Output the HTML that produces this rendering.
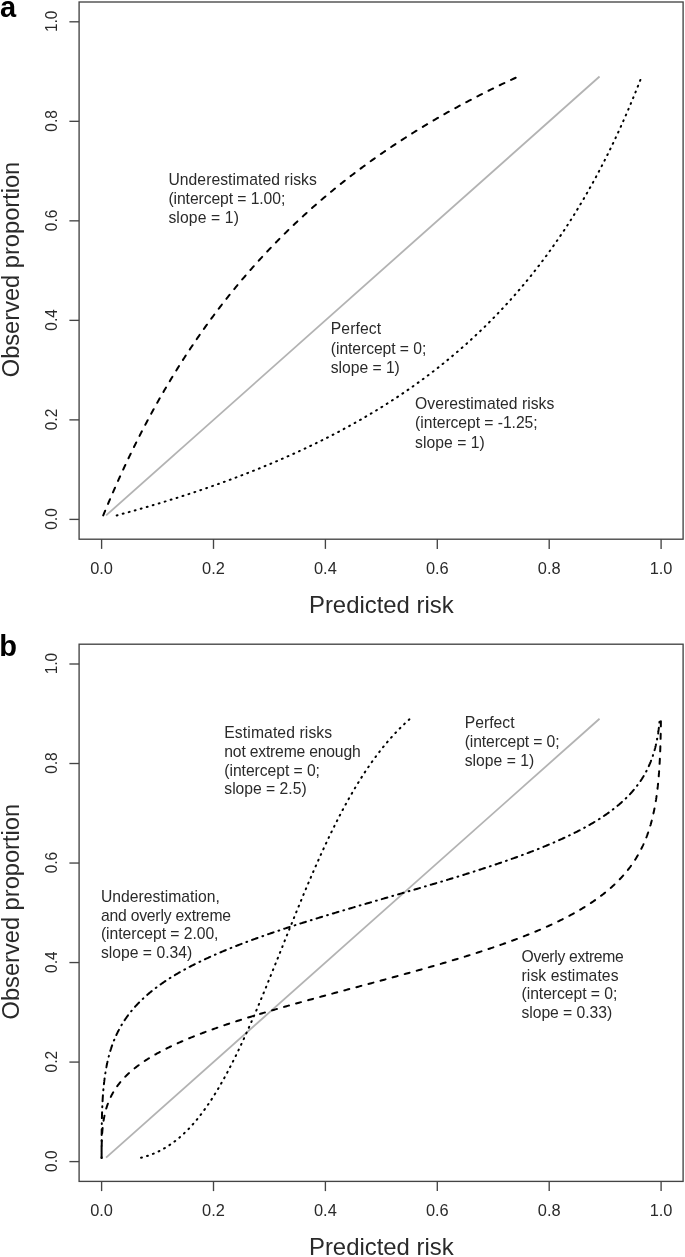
<!DOCTYPE html>
<html><head><meta charset="utf-8"><style>
html,body{margin:0;padding:0;background:#fff;}
body{width:685px;height:1257px;overflow:hidden;}
svg{display:block;font-family:"Liberation Sans",sans-serif;filter:grayscale(1);}
</style></head><body>
<svg width="685" height="1257" viewBox="0 0 685 1257">
<rect width="685" height="1257" fill="#fff"/>
<rect x="79.10" y="2.00" width="604.00" height="537.20" fill="none" stroke="#444" stroke-width="1.35"/><g stroke="#444" stroke-width="1.35"><line x1="101.60" y1="539.20" x2="101.60" y2="548.90"/><line x1="69.40" y1="519.40" x2="79.10" y2="519.40"/><line x1="213.50" y1="539.20" x2="213.50" y2="548.90"/><line x1="69.40" y1="419.88" x2="79.10" y2="419.88"/><line x1="325.40" y1="539.20" x2="325.40" y2="548.90"/><line x1="69.40" y1="320.36" x2="79.10" y2="320.36"/><line x1="437.30" y1="539.20" x2="437.30" y2="548.90"/><line x1="69.40" y1="220.84" x2="79.10" y2="220.84"/><line x1="549.20" y1="539.20" x2="549.20" y2="548.90"/><line x1="69.40" y1="121.32" x2="79.10" y2="121.32"/><line x1="661.10" y1="539.20" x2="661.10" y2="548.90"/><line x1="69.40" y1="21.80" x2="79.10" y2="21.80"/></g><g font-size="16.40" fill="#2a2a2a"><text x="101.60" y="573.90" text-anchor="middle">0.0</text><text transform="translate(56.80 519.00) rotate(-90) scale(0.94 1)" text-anchor="middle">0.0</text><text x="213.50" y="573.90" text-anchor="middle">0.2</text><text transform="translate(56.80 419.48) rotate(-90) scale(0.94 1)" text-anchor="middle">0.2</text><text x="325.40" y="573.90" text-anchor="middle">0.4</text><text transform="translate(56.80 319.96) rotate(-90) scale(0.94 1)" text-anchor="middle">0.4</text><text x="437.30" y="573.90" text-anchor="middle">0.6</text><text transform="translate(56.80 220.44) rotate(-90) scale(0.94 1)" text-anchor="middle">0.6</text><text x="549.20" y="573.90" text-anchor="middle">0.8</text><text transform="translate(56.80 120.92) rotate(-90) scale(0.94 1)" text-anchor="middle">0.8</text><text x="661.10" y="573.90" text-anchor="middle">1.0</text><text transform="translate(56.80 21.40) rotate(-90) scale(0.94 1)" text-anchor="middle">1.0</text></g><text x="381.35" y="612.60" text-anchor="middle" font-size="23.90" fill="#2a2a2a">Predicted risk</text><text transform="translate(18.60 269.50) rotate(-90)" text-anchor="middle" font-size="23.65" fill="#2a2a2a">Observed proportion</text><text x="0.00" y="16.60" font-size="29" font-weight="bold" fill="#000">a</text>
<rect x="79.10" y="644.20" width="604.00" height="537.20" fill="none" stroke="#444" stroke-width="1.35"/><g stroke="#444" stroke-width="1.35"><line x1="101.60" y1="1181.40" x2="101.60" y2="1191.10"/><line x1="69.40" y1="1161.60" x2="79.10" y2="1161.60"/><line x1="213.50" y1="1181.40" x2="213.50" y2="1191.10"/><line x1="69.40" y1="1062.08" x2="79.10" y2="1062.08"/><line x1="325.40" y1="1181.40" x2="325.40" y2="1191.10"/><line x1="69.40" y1="962.56" x2="79.10" y2="962.56"/><line x1="437.30" y1="1181.40" x2="437.30" y2="1191.10"/><line x1="69.40" y1="863.04" x2="79.10" y2="863.04"/><line x1="549.20" y1="1181.40" x2="549.20" y2="1191.10"/><line x1="69.40" y1="763.52" x2="79.10" y2="763.52"/><line x1="661.10" y1="1181.40" x2="661.10" y2="1191.10"/><line x1="69.40" y1="664.00" x2="79.10" y2="664.00"/></g><g font-size="16.40" fill="#2a2a2a"><text x="101.60" y="1216.10" text-anchor="middle">0.0</text><text transform="translate(56.80 1161.20) rotate(-90) scale(0.94 1)" text-anchor="middle">0.0</text><text x="213.50" y="1216.10" text-anchor="middle">0.2</text><text transform="translate(56.80 1061.68) rotate(-90) scale(0.94 1)" text-anchor="middle">0.2</text><text x="325.40" y="1216.10" text-anchor="middle">0.4</text><text transform="translate(56.80 962.16) rotate(-90) scale(0.94 1)" text-anchor="middle">0.4</text><text x="437.30" y="1216.10" text-anchor="middle">0.6</text><text transform="translate(56.80 862.64) rotate(-90) scale(0.94 1)" text-anchor="middle">0.6</text><text x="549.20" y="1216.10" text-anchor="middle">0.8</text><text transform="translate(56.80 763.12) rotate(-90) scale(0.94 1)" text-anchor="middle">0.8</text><text x="661.10" y="1216.10" text-anchor="middle">1.0</text><text transform="translate(56.80 663.60) rotate(-90) scale(0.94 1)" text-anchor="middle">1.0</text></g><text x="381.35" y="1254.80" text-anchor="middle" font-size="23.90" fill="#2a2a2a">Predicted risk</text><text transform="translate(18.60 911.70) rotate(-90)" text-anchor="middle" font-size="23.65" fill="#2a2a2a">Observed proportion</text><text x="-0.80" y="655.60" font-size="29" font-weight="bold" fill="#000">b</text>
<path d="M106.08 515.42L599.55 76.54" stroke="#b3b3b3" stroke-width="1.80" fill="none"/>
<path d="M103.22 515.42L103.67 514.32L104.12 513.22L104.58 512.13L105.03 511.03L105.49 509.93L105.94 508.84L106.40 507.74L106.86 506.64L107.32 505.54L107.78 504.45L108.24 503.35L108.71 502.25L109.17 501.16L109.64 500.06L110.11 498.96L110.58 497.86L111.05 496.77L111.52 495.67L112.00 494.57L112.47 493.48L112.95 492.38L113.43 491.28L113.91 490.18L114.39 489.09L114.87 487.99L115.36 486.89L115.84 485.79L116.33 484.70L116.82 483.60L117.30 482.50L117.80 481.41L118.29 480.31L118.78 479.21L119.28 478.11L119.77 477.02L120.27 475.92L120.77 474.82L121.27 473.73L121.78 472.63L122.28 471.53L122.79 470.43L123.29 469.34L123.80 468.24L124.31 467.14L124.83 466.04L125.34 464.95L125.85 463.85L126.37 462.75L126.89 461.66L127.41 460.56L127.93 459.46L128.45 458.36L128.98 457.27L129.50 456.17L130.03 455.07L130.56 453.98L131.09 452.88L131.63 451.78L132.16 450.68L132.70 449.59L133.23 448.49L133.77 447.39L134.31 446.30L134.86 445.20L135.40 444.10L135.95 443.00L136.49 441.91L137.04 440.81L137.60 439.71L138.15 438.61L138.70 437.52L139.26 436.42L139.82 435.32L140.38 434.23L140.94 433.13L141.50 432.03L142.07 430.93L142.64 429.84L143.21 428.74L143.78 427.64L144.35 426.55L144.92 425.45L145.50 424.35L146.08 423.25L146.66 422.16L147.24 421.06L147.82 419.96L148.41 418.86L149.00 417.77L149.59 416.67L150.18 415.57L150.77 414.48L151.37 413.38L151.96 412.28L152.56 411.18L153.16 410.09L153.77 408.99L154.37 407.89L154.98 406.80L155.59 405.70L156.20 404.60L156.81 403.50L157.43 402.41L158.05 401.31L158.66 400.21L159.29 399.12L159.91 398.02L160.53 396.92L161.16 395.82L161.79 394.73L162.42 393.63L163.06 392.53L163.69 391.43L164.33 390.34L164.97 389.24L165.62 388.14L166.26 387.05L166.91 385.95L167.56 384.85L168.21 383.75L168.86 382.66L169.52 381.56L170.18 380.46L170.84 379.37L171.50 378.27L172.16 377.17L172.83 376.07L173.50 374.98L174.17 373.88L174.85 372.78L175.52 371.68L176.20 370.59L176.88 369.49L177.57 368.39L178.25 367.30L178.94 366.20L179.63 365.10L180.33 364.00L181.02 362.91L181.72 361.81L182.42 360.71L183.12 359.62L183.83 358.52L184.54 357.42L185.25 356.32L185.96 355.23L186.68 354.13L187.40 353.03L188.12 351.94L188.84 350.84L189.57 349.74L190.29 348.64L191.03 347.55L191.76 346.45L192.50 345.35L193.24 344.25L193.98 343.16L194.72 342.06L195.47 340.96L196.22 339.87L196.97 338.77L197.73 337.67L198.49 336.57L199.25 335.48L200.01 334.38L200.78 333.28L201.55 332.19L202.32 331.09L203.10 329.99L203.88 328.89L204.66 327.80L205.44 326.70L206.23 325.60L207.02 324.51L207.82 323.41L208.61 322.31L209.41 321.21L210.21 320.12L211.02 319.02L211.83 317.92L212.64 316.82L213.45 315.73L214.27 314.63L215.09 313.53L215.92 312.44L216.74 311.34L217.57 310.24L218.41 309.14L219.24 308.05L220.08 306.95L220.93 305.85L221.77 304.76L222.62 303.66L223.48 302.56L224.33 301.46L225.19 300.37L226.06 299.27L226.92 298.17L227.79 297.07L228.67 295.98L229.54 294.88L230.42 293.78L231.31 292.69L232.20 291.59L233.09 290.49L233.98 289.39L234.88 288.30L235.78 287.20L236.69 286.10L237.60 285.01L238.51 283.91L239.43 282.81L240.35 281.71L241.27 280.62L242.20 279.52L243.13 278.42L244.07 277.33L245.00 276.23L245.95 275.13L246.89 274.03L247.85 272.94L248.80 271.84L249.76 270.74L250.72 269.64L251.69 268.55L252.66 267.45L253.63 266.35L254.61 265.26L255.60 264.16L256.58 263.06L257.57 261.96L258.57 260.87L259.57 259.77L260.57 258.67L261.58 257.58L262.59 256.48L263.61 255.38L264.63 254.28L265.66 253.19L266.69 252.09L267.72 250.99L268.76 249.89L269.80 248.80L270.85 247.70L271.90 246.60L272.96 245.51L274.02 244.41L275.09 243.31L276.16 242.21L277.24 241.12L278.32 240.02L279.40 238.92L280.49 237.83L281.59 236.73L282.68 235.63L283.79 234.53L284.90 233.44L286.01 232.34L287.13 231.24L288.26 230.15L289.39 229.05L290.52 227.95L291.66 226.85L292.80 225.76L293.95 224.66L295.11 223.56L296.27 222.46L297.44 221.37L298.61 220.27L299.78 219.17L300.97 218.08L302.15 216.98L303.35 215.88L304.54 214.78L305.75 213.69L306.96 212.59L308.17 211.49L309.39 210.40L310.62 209.30L311.85 208.20L313.09 207.10L314.34 206.01L315.59 204.91L316.84 203.81L318.10 202.71L319.37 201.62L320.64 200.52L321.92 199.42L323.21 198.33L324.50 197.23L325.80 196.13L327.11 195.03L328.42 193.94L329.73 192.84L331.06 191.74L332.39 190.65L333.73 189.55L335.07 188.45L336.42 187.35L337.78 186.26L339.14 185.16L340.51 184.06L341.89 182.97L343.27 181.87L344.66 180.77L346.06 179.67L347.46 178.58L348.88 177.48L350.29 176.38L351.72 175.28L353.15 174.19L354.59 173.09L356.04 171.99L357.50 170.90L358.96 169.80L360.43 168.70L361.91 167.60L363.39 166.51L364.89 165.41L366.39 164.31L367.90 163.22L369.41 162.12L370.94 161.02L372.47 159.92L374.01 158.83L375.56 157.73L377.12 156.63L378.68 155.53L380.26 154.44L381.84 153.34L383.43 152.24L385.03 151.15L386.63 150.05L388.25 148.95L389.87 147.85L391.51 146.76L393.15 145.66L394.80 144.56L396.46 143.47L398.13 142.37L399.81 141.27L401.50 140.17L403.19 139.08L404.90 137.98L406.62 136.88L408.34 135.79L410.08 134.69L411.82 133.59L413.58 132.49L415.34 131.40L417.11 130.30L418.90 129.20L420.69 128.10L422.50 127.01L424.31 125.91L426.14 124.81L427.97 123.72L429.82 122.62L431.68 121.52L433.55 120.42L435.42 119.33L437.31 118.23L439.21 117.13L441.13 116.04L443.05 114.94L444.98 113.84L446.93 112.74L448.89 111.65L450.86 110.55L452.84 109.45L454.83 108.36L456.83 107.26L458.85 106.16L460.88 105.06L462.92 103.97L464.97 102.87L467.04 101.77L469.12 100.67L471.21 99.58L473.31 98.48L475.43 97.38L477.56 96.29L479.70 95.19L481.86 94.09L484.03 92.99L486.21 91.90L488.41 90.80L490.62 89.70L492.84 88.61L495.08 87.51L497.34 86.41L499.60 85.31L501.89 84.22L504.18 83.12L506.50 82.02L508.82 80.92L511.16 79.83L513.52 78.73L515.89 77.63L518.28 76.54" stroke="#000" stroke-width="2.00" fill="none" stroke-dasharray="5.1 7.4" stroke-linecap="round"/>
<path d="M116.70 515.42L120.76 514.32L124.77 513.22L128.75 512.13L132.68 511.03L136.58 509.93L140.43 508.84L144.25 507.74L148.02 506.64L151.76 505.54L155.46 504.45L159.13 503.35L162.75 502.25L166.35 501.16L169.90 500.06L173.43 498.96L176.91 497.86L180.37 496.77L183.79 495.67L187.18 494.57L190.53 493.48L193.85 492.38L197.15 491.28L200.41 490.18L203.64 489.09L206.84 487.99L210.01 486.89L213.15 485.79L216.26 484.70L219.35 483.60L222.41 482.50L225.43 481.41L228.44 480.31L231.41 479.21L234.36 478.11L237.28 477.02L240.17 475.92L243.04 474.82L245.89 473.73L248.71 472.63L251.50 471.53L254.27 470.43L257.02 469.34L259.75 468.24L262.45 467.14L265.12 466.04L267.78 464.95L270.41 463.85L273.02 462.75L275.61 461.66L278.17 460.56L280.72 459.46L283.24 458.36L285.75 457.27L288.23 456.17L290.69 455.07L293.13 453.98L295.56 452.88L297.96 451.78L300.34 450.68L302.71 449.59L305.05 448.49L307.38 447.39L309.69 446.30L311.98 445.20L314.25 444.10L316.50 443.00L318.74 441.91L320.96 440.81L323.16 439.71L325.35 438.61L327.52 437.52L329.67 436.42L331.81 435.32L333.93 434.23L336.03 433.13L338.12 432.03L340.19 430.93L342.24 429.84L344.29 428.74L346.31 427.64L348.32 426.55L350.32 425.45L352.30 424.35L354.27 423.25L356.22 422.16L358.16 421.06L360.08 419.96L362.00 418.86L363.89 417.77L365.78 416.67L367.65 415.57L369.50 414.48L371.35 413.38L373.18 412.28L374.99 411.18L376.80 410.09L378.59 408.99L380.37 407.89L382.14 406.80L383.90 405.70L385.64 404.60L387.37 403.50L389.09 402.41L390.80 401.31L392.49 400.21L394.18 399.12L395.85 398.02L397.51 396.92L399.17 395.82L400.81 394.73L402.43 393.63L404.05 392.53L405.66 391.43L407.26 390.34L408.84 389.24L410.42 388.14L411.99 387.05L413.54 385.95L415.09 384.85L416.62 383.75L418.15 382.66L419.67 381.56L421.17 380.46L422.67 379.37L424.16 378.27L425.63 377.17L427.10 376.07L428.56 374.98L430.01 373.88L431.45 372.78L432.88 371.68L434.31 370.59L435.72 369.49L437.13 368.39L438.52 367.30L439.91 366.20L441.29 365.10L442.66 364.00L444.03 362.91L445.38 361.81L446.73 360.71L448.06 359.62L449.40 358.52L450.72 357.42L452.03 356.32L453.34 355.23L454.64 354.13L455.93 353.03L457.21 351.94L458.49 350.84L459.76 349.74L461.02 348.64L462.27 347.55L463.52 346.45L464.76 345.35L465.99 344.25L467.21 343.16L468.43 342.06L469.64 340.96L470.85 339.87L472.04 338.77L473.23 337.67L474.42 336.57L475.59 335.48L476.76 334.38L477.93 333.28L479.08 332.19L480.24 331.09L481.38 329.99L482.52 328.89L483.65 327.80L484.77 326.70L485.89 325.60L487.01 324.51L488.11 323.41L489.21 322.31L490.31 321.21L491.40 320.12L492.48 319.02L493.56 317.92L494.63 316.82L495.69 315.73L496.75 314.63L497.81 313.53L498.86 312.44L499.90 311.34L500.94 310.24L501.97 309.14L502.99 308.05L504.01 306.95L505.03 305.85L506.04 304.76L507.05 303.66L508.05 302.56L509.04 301.46L510.03 300.37L511.01 299.27L511.99 298.17L512.97 297.07L513.94 295.98L514.90 294.88L515.86 293.78L516.81 292.69L517.76 291.59L518.71 290.49L519.65 289.39L520.58 288.30L521.51 287.20L522.44 286.10L523.36 285.01L524.28 283.91L525.19 282.81L526.10 281.71L527.00 280.62L527.90 279.52L528.79 278.42L529.68 277.33L530.57 276.23L531.45 275.13L532.32 274.03L533.20 272.94L534.07 271.84L534.93 270.74L535.79 269.64L536.64 268.55L537.50 267.45L538.34 266.35L539.19 265.26L540.03 264.16L540.86 263.06L541.69 261.96L542.52 260.87L543.34 259.77L544.16 258.67L544.98 257.58L545.79 256.48L546.60 255.38L547.40 254.28L548.20 253.19L549.00 252.09L549.79 250.99L550.58 249.89L551.37 248.80L552.15 247.70L552.93 246.60L553.71 245.51L554.48 244.41L555.25 243.31L556.01 242.21L556.77 241.12L557.53 240.02L558.28 238.92L559.03 237.83L559.78 236.73L560.52 235.63L561.26 234.53L562.00 233.44L562.74 232.34L563.47 231.24L564.19 230.15L564.92 229.05L565.64 227.95L566.36 226.85L567.07 225.76L567.78 224.66L568.49 223.56L569.20 222.46L569.90 221.37L570.60 220.27L571.30 219.17L571.99 218.08L572.68 216.98L573.37 215.88L574.05 214.78L574.73 213.69L575.41 212.59L576.08 211.49L576.76 210.40L577.43 209.30L578.09 208.20L578.76 207.10L579.42 206.01L580.08 204.91L580.73 203.81L581.39 202.71L582.04 201.62L582.68 200.52L583.33 199.42L583.97 198.33L584.61 197.23L585.24 196.13L585.88 195.03L586.51 193.94L587.14 192.84L587.76 191.74L588.39 190.65L589.01 189.55L589.63 188.45L590.24 187.35L590.86 186.26L591.47 185.16L592.08 184.06L592.68 182.97L593.29 181.87L593.89 180.77L594.49 179.67L595.08 178.58L595.67 177.48L596.27 176.38L596.86 175.28L597.44 174.19L598.03 173.09L598.61 171.99L599.19 170.90L599.77 169.80L600.34 168.70L600.91 167.60L601.48 166.51L602.05 165.41L602.62 164.31L603.18 163.22L603.74 162.12L604.30 161.02L604.86 159.92L605.42 158.83L605.97 157.73L606.52 156.63L607.07 155.53L607.62 154.44L608.16 153.34L608.70 152.24L609.24 151.15L609.78 150.05L610.32 148.95L610.85 147.85L611.38 146.76L611.91 145.66L612.44 144.56L612.97 143.47L613.49 142.37L614.01 141.27L614.53 140.17L615.05 139.08L615.57 137.98L616.08 136.88L616.60 135.79L617.11 134.69L617.61 133.59L618.12 132.49L618.63 131.40L619.13 130.30L619.63 129.20L620.13 128.10L620.63 127.01L621.12 125.91L621.62 124.81L622.11 123.72L622.60 122.62L623.09 121.52L623.57 120.42L624.06 119.33L624.54 118.23L625.02 117.13L625.50 116.04L625.98 114.94L626.46 113.84L626.93 112.74L627.40 111.65L627.88 110.55L628.34 109.45L628.81 108.36L629.28 107.26L629.74 106.16L630.21 105.06L630.67 103.97L631.13 102.87L631.58 101.77L632.04 100.67L632.49 99.58L632.95 98.48L633.40 97.38L633.85 96.29L634.30 95.19L634.74 94.09L635.19 92.99L635.63 91.90L636.08 90.80L636.52 89.70L636.95 88.61L637.39 87.51L637.83 86.41L638.26 85.31L638.70 84.22L639.13 83.12L639.56 82.02L639.99 80.92L640.41 79.83L640.84 78.73L641.26 77.63L641.69 76.54" stroke="#000" stroke-width="2.00" fill="none" stroke-dasharray="0.9 5.34" stroke-linecap="round"/>
<path d="M106.08 1157.62L599.55 718.74" stroke="#b3b3b3" stroke-width="1.80" fill="none"/>
<path d="M141.05 1157.82L144.99 1156.72L148.39 1155.63L151.40 1154.53L154.12 1153.43L156.61 1152.34L158.92 1151.24L161.07 1150.14L163.09 1149.05L165.00 1147.95L166.81 1146.85L168.54 1145.76L170.18 1144.66L171.76 1143.56L173.28 1142.47L174.75 1141.37L176.16 1140.27L177.52 1139.18L178.85 1138.08L180.13 1136.99L181.38 1135.89L182.59 1134.79L183.78 1133.70L184.93 1132.60L186.05 1131.50L187.15 1130.41L188.23 1129.31L189.28 1128.21L190.31 1127.12L191.32 1126.02L192.31 1124.92L193.29 1123.83L194.24 1122.73L195.18 1121.64L196.10 1120.54L197.01 1119.44L197.90 1118.35L198.78 1117.25L199.64 1116.15L200.50 1115.06L201.34 1113.96L202.16 1112.86L202.98 1111.77L203.79 1110.67L204.58 1109.57L205.37 1108.48L206.15 1107.38L206.91 1106.28L207.67 1105.19L208.42 1104.09L209.16 1103.00L209.90 1101.90L210.62 1100.80L211.34 1099.71L212.05 1098.61L212.75 1097.51L213.45 1096.42L214.14 1095.32L214.82 1094.22L215.50 1093.13L216.17 1092.03L216.83 1090.93L217.49 1089.84L218.15 1088.74L218.79 1087.64L219.44 1086.55L220.07 1085.45L220.71 1084.36L221.33 1083.26L221.96 1082.16L222.58 1081.07L223.19 1079.97L223.80 1078.87L224.40 1077.78L225.01 1076.68L225.60 1075.58L226.20 1074.49L226.78 1073.39L227.37 1072.29L227.95 1071.20L228.53 1070.10L229.10 1069.00L229.68 1067.91L230.24 1066.81L230.81 1065.72L231.37 1064.62L231.93 1063.52L232.48 1062.43L233.04 1061.33L233.58 1060.23L234.13 1059.14L234.68 1058.04L235.22 1056.94L235.75 1055.85L236.29 1054.75L236.82 1053.65L237.35 1052.56L237.88 1051.46L238.41 1050.37L238.93 1049.27L239.45 1048.17L239.97 1047.08L240.49 1045.98L241.01 1044.88L241.52 1043.79L242.03 1042.69L242.54 1041.59L243.04 1040.50L243.55 1039.40L244.05 1038.30L244.55 1037.21L245.05 1036.11L245.55 1035.01L246.05 1033.92L246.54 1032.82L247.03 1031.73L247.52 1030.63L248.01 1029.53L248.50 1028.44L248.99 1027.34L249.47 1026.24L249.96 1025.15L250.44 1024.05L250.92 1022.95L251.40 1021.86L251.88 1020.76L252.35 1019.66L252.83 1018.57L253.30 1017.47L253.78 1016.37L254.25 1015.28L254.72 1014.18L255.19 1013.09L255.66 1011.99L256.13 1010.89L256.59 1009.80L257.06 1008.70L257.52 1007.60L257.98 1006.51L258.45 1005.41L258.91 1004.31L259.37 1003.22L259.83 1002.12L260.29 1001.02L260.75 999.93L261.20 998.83L261.66 997.73L262.11 996.64L262.57 995.54L263.02 994.45L263.48 993.35L263.93 992.25L264.38 991.16L264.83 990.06L265.28 988.96L265.73 987.87L266.18 986.77L266.63 985.67L267.08 984.58L267.53 983.48L267.98 982.38L268.42 981.29L268.87 980.19L269.32 979.09L269.76 978.00L270.21 976.90L270.65 975.81L271.10 974.71L271.54 973.61L271.98 972.52L272.43 971.42L272.87 970.32L273.31 969.23L273.75 968.13L274.20 967.03L274.64 965.94L275.08 964.84L275.52 963.74L275.96 962.65L276.40 961.55L276.84 960.46L277.28 959.36L277.72 958.26L278.16 957.17L278.60 956.07L279.04 954.97L279.48 953.88L279.92 952.78L280.36 951.68L280.80 950.59L281.24 949.49L281.68 948.39L282.12 947.30L282.56 946.20L283.00 945.10L283.44 944.01L283.88 942.91L284.32 941.82L284.76 940.72L285.20 939.62L285.64 938.53L286.08 937.43L286.52 936.33L286.96 935.24L287.40 934.14L287.84 933.04L288.28 931.95L288.72 930.85L289.16 929.75L289.61 928.66L290.05 927.56L290.49 926.46L290.93 925.37L291.38 924.27L291.82 923.18L292.26 922.08L292.71 920.98L293.15 919.89L293.60 918.79L294.04 917.69L294.49 916.60L294.93 915.50L295.38 914.40L295.83 913.31L296.27 912.21L296.72 911.11L297.17 910.02L297.62 908.92L298.07 907.82L298.52 906.73L298.97 905.63L299.42 904.54L299.87 903.44L300.32 902.34L300.77 901.25L301.23 900.15L301.68 899.05L302.14 897.96L302.59 896.86L303.05 895.76L303.51 894.67L303.96 893.57L304.42 892.47L304.88 891.38L305.34 890.28L305.80 889.19L306.26 888.09L306.73 886.99L307.19 885.90L307.66 884.80L308.12 883.70L308.59 882.61L309.05 881.51L309.52 880.41L309.99 879.32L310.46 878.22L310.93 877.12L311.40 876.03L311.88 874.93L312.35 873.83L312.83 872.74L313.30 871.64L313.78 870.55L314.26 869.45L314.74 868.35L315.22 867.26L315.70 866.16L316.19 865.06L316.67 863.97L317.16 862.87L317.65 861.77L318.13 860.68L318.62 859.58L319.12 858.48L319.61 857.39L320.10 856.29L320.60 855.19L321.10 854.10L321.59 853.00L322.09 851.91L322.60 850.81L323.10 849.71L323.61 848.62L324.11 847.52L324.62 846.42L325.13 845.33L325.64 844.23L326.15 843.13L326.67 842.04L327.19 840.94L327.71 839.84L328.23 838.75L328.75 837.65L329.27 836.55L329.80 835.46L330.33 834.36L330.86 833.27L331.39 832.17L331.93 831.07L332.46 829.98L333.00 828.88L333.54 827.78L334.08 826.69L334.63 825.59L335.18 824.49L335.73 823.40L336.28 822.30L336.84 821.20L337.39 820.11L337.95 819.01L338.51 817.92L339.08 816.82L339.65 815.72L340.22 814.63L340.79 813.53L341.37 812.43L341.94 811.34L342.52 810.24L343.11 809.14L343.70 808.05L344.29 806.95L344.88 805.85L345.48 804.76L346.07 803.66L346.68 802.56L347.28 801.47L347.89 800.37L348.50 799.28L349.12 798.18L349.74 797.08L350.36 795.99L350.99 794.89L351.62 793.79L352.25 792.70L352.89 791.60L353.53 790.50L354.18 789.41L354.83 788.31L355.48 787.21L356.14 786.12L356.80 785.02L357.47 783.92L358.14 782.83L358.82 781.73L359.50 780.64L360.18 779.54L360.87 778.44L361.57 777.35L362.27 776.25L362.97 775.15L363.68 774.06L364.40 772.96L365.12 771.86L365.85 770.77L366.58 769.67L367.32 768.57L368.06 767.48L368.81 766.38L369.57 765.28L370.33 764.19L371.10 763.09L371.87 762.00L372.66 760.90L373.44 759.80L374.24 758.71L375.04 757.61L375.85 756.51L376.67 755.42L377.50 754.32L378.33 753.22L379.17 752.13L380.02 751.03L380.88 749.93L381.75 748.84L382.62 747.74L383.51 746.65L384.41 745.55L385.31 744.45L386.22 743.36L387.15 742.26L388.08 741.16L389.03 740.07L389.99 738.97L390.95 737.87L391.93 736.78L392.93 735.68L393.93 734.58L394.95 733.49L395.98 732.39L397.02 731.29L398.08 730.20L399.15 729.10L400.24 728.01L401.34 726.91L402.46 725.81L403.60 724.72L404.75 723.62L405.92 722.52L407.11 721.43L408.31 720.33L409.54 719.23" stroke="#000" stroke-width="2.00" fill="none" stroke-dasharray="0.9 5.34" stroke-linecap="round"/>
<path d="M101.60 1158.12L101.60 1157.83L101.60 1157.53L101.60 1157.24L101.60 1156.95L101.60 1156.66L101.60 1156.37L101.60 1156.08L101.60 1155.78L101.60 1155.49L101.61 1155.20L101.61 1154.91L101.61 1154.62L101.61 1154.33L101.61 1154.03L101.61 1153.74L101.61 1153.45L101.61 1153.16L101.61 1152.87L101.62 1152.58L101.62 1152.28L101.62 1151.99L101.62 1151.70L101.62 1151.41L101.63 1151.12L101.63 1150.83L101.63 1150.54L101.63 1150.24L101.64 1149.95L101.64 1149.66L101.64 1149.37L101.64 1149.08L101.65 1148.79L101.65 1148.49L101.65 1148.20L101.66 1147.91L101.66 1147.62L101.67 1147.33L101.67 1147.04L101.68 1146.74L101.68 1146.45L101.69 1146.16L101.69 1145.87L101.70 1145.58L101.70 1145.29L101.71 1145.00L101.71 1144.70L101.72 1144.41L101.73 1144.12L101.73 1143.83L101.74 1143.54L101.75 1143.25L101.75 1142.95L101.76 1142.66L101.77 1142.37L101.78 1142.08L101.79 1141.79L101.80 1141.50L101.81 1141.20L101.81 1140.91L101.82 1140.62L101.83 1140.33L101.84 1140.04L101.86 1139.75L101.87 1139.45L101.88 1139.16L101.89 1138.87L101.90 1138.58L101.91 1138.29L101.93 1138.00L101.94 1137.71L101.95 1137.41L101.97 1137.12L101.98 1136.83L102.00 1136.54L102.01 1136.25L102.03 1135.96L102.04 1135.66L102.06 1135.37L102.08 1135.08L102.09 1134.79L102.11 1134.50L102.13 1134.21L102.15 1133.91L102.16 1133.62L102.18 1133.33L102.20 1133.04L102.22 1132.75L102.24 1132.46L102.27 1132.16L102.29 1131.87L102.31 1131.58L102.33 1131.29L102.35 1131.00L102.38 1130.71L102.40 1130.42L102.43 1130.12L102.45 1129.83L102.48 1129.54L102.50 1129.25L102.53 1128.96L102.56 1128.67L102.59 1128.37L102.61 1128.08L102.64 1127.79L102.67 1127.50L102.70 1127.21L102.73 1126.92L102.77 1126.62L102.80 1126.33L102.83 1126.04L102.86 1125.75L102.90 1125.46L102.93 1125.17L102.97 1124.88L103.00 1124.58L103.04 1124.29L103.08 1124.00L103.12 1123.71L103.15 1123.42L103.19 1123.13L103.23 1122.83L103.28 1122.54L103.32 1122.25L103.36 1121.96L103.40 1121.67L103.45 1121.38L103.49 1121.08L103.54 1120.79L103.58 1120.50L103.63 1120.21L103.68 1119.92L103.73 1119.63L103.78 1119.33L103.83 1119.04L103.88 1118.75L103.93 1118.46L103.98 1118.17L104.03 1117.88L104.09 1117.59L104.14 1117.29L104.20 1117.00L104.26 1116.71L104.32 1116.42L104.38 1116.13L104.43 1115.84L104.50 1115.54L104.56 1115.25L104.62 1114.96L104.68 1114.67L104.75 1114.38L104.81 1114.09L104.88 1113.79L104.95 1113.50L105.02 1113.21L105.09 1112.92L105.16 1112.63L105.23 1112.34L105.30 1112.05L105.38 1111.75L105.45 1111.46L105.53 1111.17L105.60 1110.88L105.68 1110.59L105.76 1110.30L105.84 1110.00L105.92 1109.71L106.01 1109.42L106.09 1109.13L106.17 1108.84L106.26 1108.55L106.35 1108.25L106.44 1107.96L106.53 1107.67L106.62 1107.38L106.71 1107.09L106.80 1106.80L106.90 1106.50L106.99 1106.21L107.09 1105.92L107.19 1105.63L107.29 1105.34L107.39 1105.05L107.49 1104.76L107.59 1104.46L107.70 1104.17L107.80 1103.88L107.91 1103.59L108.02 1103.30L108.13 1103.01L108.24 1102.71L108.36 1102.42L108.47 1102.13L108.59 1101.84L108.70 1101.55L108.82 1101.26L108.94 1100.96L109.07 1100.67L109.19 1100.38L109.31 1100.09L109.44 1099.80L109.57 1099.51L109.70 1099.21L109.83 1098.92L109.96 1098.63L110.09 1098.34L110.23 1098.05L110.37 1097.76L110.50 1097.47L110.64 1097.17L110.79 1096.88L110.93 1096.59L111.07 1096.30L111.22 1096.01L111.37 1095.72L111.52 1095.42L111.67 1095.13L111.83 1094.84L111.98 1094.55L112.14 1094.26L112.30 1093.97L112.46 1093.67L112.62 1093.38L112.78 1093.09L112.95 1092.80L113.12 1092.51L113.29 1092.22L113.46 1091.93L113.63 1091.63L113.81 1091.34L113.98 1091.05L114.16 1090.76L114.34 1090.47L114.52 1090.18L114.71 1089.88L114.90 1089.59L115.08 1089.30L115.27 1089.01L115.47 1088.72L115.66 1088.43L115.86 1088.13L116.06 1087.84L116.26 1087.55L116.46 1087.26L116.66 1086.97L116.87 1086.68L117.08 1086.38L117.29 1086.09L117.50 1085.80L117.71 1085.51L117.93 1085.22L118.15 1084.93L118.37 1084.64L118.60 1084.34L118.82 1084.05L119.05 1083.76L119.28 1083.47L119.51 1083.18L119.75 1082.89L119.98 1082.59L120.22 1082.30L120.46 1082.01L120.71 1081.72L120.95 1081.43L121.20 1081.14L121.45 1080.84L121.70 1080.55L121.96 1080.26L122.22 1079.97L122.48 1079.68L122.74 1079.39L123.00 1079.09L123.27 1078.80L123.54 1078.51L123.81 1078.22L124.09 1077.93L124.36 1077.64L124.64 1077.35L124.92 1077.05L125.21 1076.76L125.49 1076.47L125.78 1076.18L126.08 1075.89L126.37 1075.60L126.67 1075.30L126.97 1075.01L127.27 1074.72L127.58 1074.43L127.88 1074.14L128.19 1073.85L128.51 1073.55L128.82 1073.26L129.14 1072.97L129.46 1072.68L129.78 1072.39L130.11 1072.10L130.44 1071.81L130.77 1071.51L131.11 1071.22L131.44 1070.93L131.78 1070.64L132.13 1070.35L132.47 1070.06L132.82 1069.76L133.17 1069.47L133.53 1069.18L133.88 1068.89L134.24 1068.60L134.61 1068.31L134.97 1068.01L135.34 1067.72L135.71 1067.43L136.09 1067.14L136.46 1066.85L136.84 1066.56L137.23 1066.26L137.61 1065.97L138.00 1065.68L138.39 1065.39L138.79 1065.10L139.19 1064.81L139.59 1064.52L139.99 1064.22L140.40 1063.93L140.81 1063.64L141.23 1063.35L141.64 1063.06L142.06 1062.77L142.48 1062.47L142.91 1062.18L143.34 1061.89L143.77 1061.60L144.21 1061.31L144.65 1061.02L145.09 1060.72L145.53 1060.43L145.98 1060.14L146.43 1059.85L146.89 1059.56L147.34 1059.27L147.81 1058.97L148.27 1058.68L148.74 1058.39L149.21 1058.10L149.68 1057.81L150.16 1057.52L150.64 1057.23L151.12 1056.93L151.61 1056.64L152.10 1056.35L152.60 1056.06L153.09 1055.77L153.59 1055.48L154.10 1055.18L154.60 1054.89L155.11 1054.60L155.63 1054.31L156.15 1054.02L156.67 1053.73L157.19 1053.43L157.72 1053.14L158.25 1052.85L158.78 1052.56L159.32 1052.27L159.86 1051.98L160.41 1051.69L160.96 1051.39L161.51 1051.10L162.06 1050.81L162.62 1050.52L163.18 1050.23L163.75 1049.94L164.32 1049.64L164.89 1049.35L165.46 1049.06L166.04 1048.77L166.63 1048.48L167.21 1048.19L167.80 1047.89L168.40 1047.60L168.99 1047.31L169.59 1047.02L170.20 1046.73L170.80 1046.44L171.41 1046.14L172.03 1045.85L172.65 1045.56L173.27 1045.27L173.89 1044.98L174.52 1044.69L175.15 1044.40L175.79 1044.10L176.43 1043.81L177.07 1043.52L177.72 1043.23L178.37 1042.94L179.02 1042.65L179.68 1042.35L180.34 1042.06L181.00 1041.77L181.67 1041.48L182.34 1041.19L183.02 1040.90L183.69 1040.60L184.38 1040.31L185.06 1040.02L185.75 1039.73L186.44 1039.44L187.14 1039.15L187.84 1038.86L188.54 1038.56L189.25 1038.27L189.96 1037.98L190.67 1037.69L191.39 1037.40L192.11 1037.11L192.83 1036.81L193.56 1036.52L194.29 1036.23L195.03 1035.94L195.77 1035.65L196.51 1035.36L197.25 1035.06L198.00 1034.77L198.76 1034.48L199.51 1034.19L200.27 1033.90L201.03 1033.61L201.80 1033.31L202.57 1033.02L203.34 1032.73L204.12 1032.44L204.90 1032.15L205.68 1031.86L206.47 1031.57L207.26 1031.27L208.05 1030.98L208.85 1030.69L209.65 1030.40L210.46 1030.11L211.26 1029.82L212.07 1029.52L212.89 1029.23L213.71 1028.94L214.53 1028.65L215.35 1028.36L216.18 1028.07L217.01 1027.77L217.84 1027.48L218.68 1027.19L219.52 1026.90L220.36 1026.61L221.21 1026.32L222.06 1026.02L222.92 1025.73L223.77 1025.44L224.63 1025.15L225.50 1024.86L226.36 1024.57L227.23 1024.28L228.10 1023.98L228.98 1023.69L229.86 1023.40L230.74 1023.11L231.63 1022.82L232.51 1022.53L233.40 1022.23L234.30 1021.94L235.20 1021.65L236.10 1021.36L237.00 1021.07L237.91 1020.78L238.82 1020.48L239.73 1020.19L240.64 1019.90L241.56 1019.61L242.48 1019.32L243.41 1019.03L244.33 1018.74L245.26 1018.44L246.19 1018.15L247.13 1017.86L248.07 1017.57L249.01 1017.28L249.95 1016.99L250.90 1016.69L251.85 1016.40L252.80 1016.11L253.75 1015.82L254.71 1015.53L255.67 1015.24L256.63 1014.94L257.59 1014.65L258.56 1014.36L259.53 1014.07L260.50 1013.78L261.48 1013.49L262.45 1013.19L263.43 1012.90L264.42 1012.61L265.40 1012.32L266.39 1012.03L267.38 1011.74L268.37 1011.45L269.36 1011.15L270.36 1010.86L271.36 1010.57L272.36 1010.28L273.36 1009.99L274.36 1009.70L275.37 1009.40L276.38 1009.11L277.39 1008.82L278.40 1008.53L279.42 1008.24L280.44 1007.95L281.46 1007.65L282.48 1007.36L283.50 1007.07L284.53 1006.78L285.55 1006.49L286.58 1006.20L287.61 1005.90L288.65 1005.61L289.68 1005.32L290.72 1005.03L291.76 1004.74L292.80 1004.45L293.84 1004.16L294.88 1003.86L295.93 1003.57L296.97 1003.28L298.02 1002.99L299.07 1002.70L300.12 1002.41L301.17 1002.11L302.23 1001.82L303.28 1001.53L304.34 1001.24L305.40 1000.95L306.46 1000.66L307.52 1000.36L308.58 1000.07L309.64 999.78L310.71 999.49L311.77 999.20L312.84 998.91L313.91 998.62L314.98 998.32L316.05 998.03L317.12 997.74L318.19 997.45L319.26 997.16L320.34 996.87L321.41 996.57L322.49 996.28L323.57 995.99L324.64 995.70L325.72 995.41L326.80 995.12L327.88 994.82L328.96 994.53L330.05 994.24L331.13 993.95L332.21 993.66L333.29 993.37L334.38 993.07L335.46 992.78L336.55 992.49L337.63 992.20L338.72 991.91L339.81 991.62L340.89 991.33L341.98 991.03L343.07 990.74L344.15 990.45L345.24 990.16L346.33 989.87L347.42 989.58L348.51 989.28L349.60 988.99L350.69 988.70L351.77 988.41L352.86 988.12L353.95 987.83L355.04 987.53L356.13 987.24L357.22 986.95L358.31 986.66L359.40 986.37L360.49 986.08L361.57 985.78L362.66 985.49L363.75 985.20L364.84 984.91L365.92 984.62L367.01 984.33L368.10 984.04L369.18 983.74L370.27 983.45L371.36 983.16L372.44 982.87L373.53 982.58L374.61 982.29L375.69 981.99L376.77 981.70L377.86 981.41L378.94 981.12L380.02 980.83L381.10 980.54L382.18 980.24L383.26 979.95L384.33 979.66L385.41 979.37L386.49 979.08L387.56 978.79L388.64 978.50L389.71 978.20L390.78 977.91L391.85 977.62L392.92 977.33L393.99 977.04L395.06 976.75L396.13 976.45L397.19 976.16L398.26 975.87L399.32 975.58L400.39 975.29L401.45 975.00L402.51 974.70L403.57 974.41L404.62 974.12L405.68 973.83L406.73 973.54L407.79 973.25L408.84 972.95L409.89 972.66L410.94 972.37L411.99 972.08L413.03 971.79L414.08 971.50L415.12 971.21L416.16 970.91L417.20 970.62L418.24 970.33L419.28 970.04L420.31 969.75L421.35 969.46L422.38 969.16L423.41 968.87L424.44 968.58L425.47 968.29L426.49 968.00L427.51 967.71L428.53 967.41L429.55 967.12L430.57 966.83L431.59 966.54L432.60 966.25L433.61 965.96L434.62 965.67L435.63 965.37L436.64 965.08L437.64 964.79L438.64 964.50L439.64 964.21L440.64 963.92L441.64 963.62L442.63 963.33L443.62 963.04L444.61 962.75L445.60 962.46L446.58 962.17L447.57 961.87L448.55 961.58L449.52 961.29L450.50 961.00L451.47 960.71L452.45 960.42L453.42 960.12L454.38 959.83L455.35 959.54L456.31 959.25L457.27 958.96L458.23 958.67L459.18 958.38L460.14 958.08L461.09 957.79L462.04 957.50L462.98 957.21L463.92 956.92L464.87 956.63L465.80 956.33L466.74 956.04L467.67 955.75L468.60 955.46L469.53 955.17L470.46 954.88L471.38 954.58L472.30 954.29L473.22 954.00L474.14 953.71L475.05 953.42L475.96 953.13L476.87 952.83L477.77 952.54L478.68 952.25L479.58 951.96L480.47 951.67L481.37 951.38L482.26 951.09L483.15 950.79L484.04 950.50L484.92 950.21L485.80 949.92L486.68 949.63L487.56 949.34L488.43 949.04L489.30 948.75L490.17 948.46L491.03 948.17L491.89 947.88L492.75 947.59L493.61 947.29L494.46 947.00L495.31 946.71L496.16 946.42L497.01 946.13L497.85 945.84L498.69 945.55L499.53 945.25L500.36 944.96L501.19 944.67L502.02 944.38L502.84 944.09L503.67 943.80L504.49 943.50L505.30 943.21L506.12 942.92L506.93 942.63L507.74 942.34L508.54 942.05L509.35 941.75L510.15 941.46L510.94 941.17L511.74 940.88L512.53 940.59L513.32 940.30L514.10 940.00L514.88 939.71L515.66 939.42L516.44 939.13L517.21 938.84L517.98 938.55L518.75 938.26L519.52 937.96L520.28 937.67L521.04 937.38L521.79 937.09L522.55 936.80L523.30 936.51L524.05 936.21L524.79 935.92L525.53 935.63L526.27 935.34L527.01 935.05L527.74 934.76L528.47 934.46L529.20 934.17L529.92 933.88L530.64 933.59L531.36 933.30L532.08 933.01L532.79 932.71L533.50 932.42L534.21 932.13L534.91 931.84L535.61 931.55L536.31 931.26L537.01 930.97L537.70 930.67L538.39 930.38L539.07 930.09L539.76 929.80L540.44 929.51L541.12 929.22L541.79 928.92L542.46 928.63L543.13 928.34L543.80 928.05L544.46 927.76L545.12 927.47L545.78 927.17L546.44 926.88L547.09 926.59L547.74 926.30L548.38 926.01L549.03 925.72L549.67 925.43L550.31 925.13L550.94 924.84L551.57 924.55L552.20 924.26L552.83 923.97L553.45 923.68L554.08 923.38L554.69 923.09L555.31 922.80L555.92 922.51L556.53 922.22L557.14 921.93L557.74 921.63L558.34 921.34L558.94 921.05L559.54 920.76L560.13 920.47L560.72 920.18L561.31 919.88L561.90 919.59L562.48 919.30L563.06 919.01L563.63 918.72L564.21 918.43L564.78 918.14L565.35 917.84L565.92 917.55L566.48 917.26L567.04 916.97L567.60 916.68L568.15 916.39L568.71 916.09L569.26 915.80L569.80 915.51L570.35 915.22L570.89 914.93L571.43 914.64L571.97 914.34L572.50 914.05L573.03 913.76L573.56 913.47L574.09 913.18L574.61 912.89L575.13 912.59L575.65 912.30L576.17 912.01L576.68 911.72L577.19 911.43L577.70 911.14L578.21 910.85L578.71 910.55L579.21 910.26L579.71 909.97L580.20 909.68L580.70 909.39L581.19 909.10L581.68 908.80L582.16 908.51L582.65 908.22L583.13 907.93L583.61 907.64L584.08 907.35L584.56 907.05L585.03 906.76L585.50 906.47L585.96 906.18L586.43 905.89L586.89 905.60L587.35 905.31L587.80 905.01L588.26 904.72L588.71 904.43L589.16 904.14L589.61 903.85L590.05 903.56L590.49 903.26L590.94 902.97L591.37 902.68L591.81 902.39L592.24 902.10L592.67 901.81L593.10 901.51L593.53 901.22L593.95 900.93L594.38 900.64L594.80 900.35L595.21 900.06L595.63 899.76L596.04 899.47L596.45 899.18L596.86 898.89L597.27 898.60L597.67 898.31L598.07 898.02L598.47 897.72L598.87 897.43L599.27 897.14L599.66 896.85L600.05 896.56L600.44 896.27L600.83 895.97L601.21 895.68L601.60 895.39L601.98 895.10L602.36 894.81L602.73 894.52L603.11 894.22L603.48 893.93L603.85 893.64L604.22 893.35L604.59 893.06L604.95 892.77L605.31 892.48L605.67 892.18L606.03 891.89L606.39 891.60L606.74 891.31L607.09 891.02L607.44 890.73L607.79 890.43L608.14 890.14L608.48 889.85L608.83 889.56L609.17 889.27L609.51 888.98L609.84 888.68L610.18 888.39L610.51 888.10L610.84 887.81L611.17 887.52L611.50 887.23L611.82 886.93L612.15 886.64L612.47 886.35L612.79 886.06L613.11 885.77L613.42 885.48L613.74 885.19L614.05 884.89L614.36 884.60L614.67 884.31L614.98 884.02L615.29 883.73L615.59 883.44L615.89 883.14L616.19 882.85L616.49 882.56L616.79 882.27L617.08 881.98L617.38 881.69L617.67 881.39L617.96 881.10L618.25 880.81L618.53 880.52L618.82 880.23L619.10 879.94L619.38 879.64L619.66 879.35L619.94 879.06L620.22 878.77L620.49 878.48L620.77 878.19L621.04 877.90L621.31 877.60L621.58 877.31L621.84 877.02L622.11 876.73L622.37 876.44L622.64 876.15L622.90 875.85L623.16 875.56L623.41 875.27L623.67 874.98L623.93 874.69L624.18 874.40L624.43 874.10L624.68 873.81L624.93 873.52L625.18 873.23L625.42 872.94L625.67 872.65L625.91 872.36L626.15 872.06L626.39 871.77L626.63 871.48L626.87 871.19L627.10 870.90L627.34 870.61L627.57 870.31L627.80 870.02L628.03 869.73L628.26 869.44L628.49 869.15L628.71 868.86L628.94 868.56L629.16 868.27L629.38 867.98L629.60 867.69L629.82 867.40L630.04 867.11L630.25 866.81L630.47 866.52L630.68 866.23L630.89 865.94L631.11 865.65L631.32 865.36L631.52 865.07L631.73 864.77L631.94 864.48L632.14 864.19L632.35 863.90L632.55 863.61L632.75 863.32L632.95 863.02L633.15 862.73L633.34 862.44L633.54 862.15L633.73 861.86L633.93 861.57L634.12 861.27L634.31 860.98L634.50 860.69L634.69 860.40L634.88 860.11L635.06 859.82L635.25 859.52L635.43 859.23L635.62 858.94L635.80 858.65L635.98 858.36L636.16 858.07L636.34 857.78L636.51 857.48L636.69 857.19L636.87 856.90L637.04 856.61L637.21 856.32L637.38 856.03L637.55 855.73L637.72 855.44L637.89 855.15L638.06 854.86L638.23 854.57L638.39 854.28L638.56 853.98L638.72 853.69L638.88 853.40L639.04 853.11L639.20 852.82L639.36 852.53L639.52 852.24L639.68 851.94L639.83 851.65L639.99 851.36L640.14 851.07L640.30 850.78L640.45 850.49L640.60 850.19L640.75 849.90L640.90 849.61L641.05 849.32L641.19 849.03L641.34 848.74L641.49 848.44L641.63 848.15L641.77 847.86L641.92 847.57L642.06 847.28L642.20 846.99L642.34 846.69L642.48 846.40L642.62 846.11L642.75 845.82L642.89 845.53L643.02 845.24L643.16 844.95L643.29 844.65L643.43 844.36L643.56 844.07L643.69 843.78L643.82 843.49L643.95 843.20L644.08 842.90L644.20 842.61L644.33 842.32L644.46 842.03L644.58 841.74L644.71 841.45L644.83 841.15L644.95 840.86L645.07 840.57L645.20 840.28L645.32 839.99L645.44 839.70L645.55 839.40L645.67 839.11L645.79 838.82L645.91 838.53L646.02 838.24L646.14 837.95L646.25 837.66L646.36 837.36L646.48 837.07L646.59 836.78L646.70 836.49L646.81 836.20L646.92 835.91L647.03 835.61L647.14 835.32L647.24 835.03L647.35 834.74L647.46 834.45L647.56 834.16L647.67 833.86L647.77 833.57L647.87 833.28L647.97 832.99L648.08 832.70L648.18 832.41L648.28 832.12L648.38 831.82L648.48 831.53L648.57 831.24L648.67 830.95L648.77 830.66L648.87 830.37L648.96 830.07L649.06 829.78L649.15 829.49L649.25 829.20L649.34 828.91L649.43 828.62L649.52 828.32L649.61 828.03L649.70 827.74L649.79 827.45L649.88 827.16L649.97 826.87L650.06 826.57L650.15 826.28L650.24 825.99L650.32 825.70L650.41 825.41L650.49 825.12L650.58 824.83L650.66 824.53L650.75 824.24L650.83 823.95L650.91 823.66L650.99 823.37L651.07 823.08L651.15 822.78L651.23 822.49L651.31 822.20L651.39 821.91L651.47 821.62L651.55 821.33L651.63 821.03L651.70 820.74L651.78 820.45L651.85 820.16L651.93 819.87L652.00 819.58L652.08 819.29L652.15 818.99L652.23 818.70L652.30 818.41L652.37 818.12L652.44 817.83L652.51 817.54L652.58 817.24L652.65 816.95L652.72 816.66L652.79 816.37L652.86 816.08L652.93 815.79L653.00 815.49L653.06 815.20L653.13 814.91L653.20 814.62L653.26 814.33L653.33 814.04L653.39 813.74L653.46 813.45L653.52 813.16L653.58 812.87L653.65 812.58L653.71 812.29L653.77 812.00L653.83 811.70L653.89 811.41L653.95 811.12L654.01 810.83L654.07 810.54L654.13 810.25L654.19 809.95L654.25 809.66L654.31 809.37L654.37 809.08L654.42 808.79L654.48 808.50L654.54 808.20L654.59 807.91L654.65 807.62L654.71 807.33L654.76 807.04L654.81 806.75L654.87 806.45L654.92 806.16L654.98 805.87L655.03 805.58L655.08 805.29L655.13 805.00L655.19 804.71L655.24 804.41L655.29 804.12L655.34 803.83L655.39 803.54L655.44 803.25L655.49 802.96L655.54 802.66L655.59 802.37L655.63 802.08L655.68 801.79L655.73 801.50L655.78 801.21L655.82 800.91L655.87 800.62L655.92 800.33L655.96 800.04L656.01 799.75L656.05 799.46L656.10 799.17L656.14 798.87L656.19 798.58L656.23 798.29L656.28 798.00L656.32 797.71L656.36 797.42L656.40 797.12L656.45 796.83L656.49 796.54L656.53 796.25L656.57 795.96L656.61 795.67L656.65 795.37L656.69 795.08L656.73 794.79L656.77 794.50L656.81 794.21L656.85 793.92L656.89 793.62L656.93 793.33L656.97 793.04L657.01 792.75L657.04 792.46L657.08 792.17L657.12 791.88L657.15 791.58L657.19 791.29L657.23 791.00L657.26 790.71L657.30 790.42L657.33 790.13L657.37 789.83L657.40 789.54L657.44 789.25L657.47 788.96L657.51 788.67L657.54 788.38L657.58 788.08L657.61 787.79L657.64 787.50L657.67 787.21L657.71 786.92L657.74 786.63L657.77 786.33L657.80 786.04L657.83 785.75L657.87 785.46L657.90 785.17L657.93 784.88L657.96 784.59L657.99 784.29L658.02 784.00L658.05 783.71L658.08 783.42L658.11 783.13L658.14 782.84L658.17 782.54L658.19 782.25L658.22 781.96L658.25 781.67L658.28 781.38L658.31 781.09L658.33 780.79L658.36 780.50L658.39 780.21L658.41 779.92L658.44 779.63L658.47 779.34L658.49 779.05L658.52 778.75L658.55 778.46L658.57 778.17L658.60 777.88L658.62 777.59L658.65 777.30L658.67 777.00L658.70 776.71L658.72 776.42L658.74 776.13L658.77 775.84L658.79 775.55L658.82 775.25L658.84 774.96L658.86 774.67L658.88 774.38L658.91 774.09L658.93 773.80L658.95 773.50L658.97 773.21L659.00 772.92L659.02 772.63L659.04 772.34L659.06 772.05L659.08 771.76L659.10 771.46L659.12 771.17L659.15 770.88L659.17 770.59L659.19 770.30L659.21 770.01L659.23 769.71L659.25 769.42L659.27 769.13L659.29 768.84L659.30 768.55L659.32 768.26L659.34 767.96L659.36 767.67L659.38 767.38L659.40 767.09L659.42 766.80L659.44 766.51L659.45 766.22L659.47 765.92L659.49 765.63L659.51 765.34L659.52 765.05L659.54 764.76L659.56 764.47L659.58 764.17L659.59 763.88L659.61 763.59L659.63 763.30L659.64 763.01L659.66 762.72L659.67 762.42L659.69 762.13L659.71 761.84L659.72 761.55L659.74 761.26L659.75 760.97L659.77 760.67L659.78 760.38L659.80 760.09L659.81 759.80L659.83 759.51L659.84 759.22L659.86 758.93L659.87 758.63L659.88 758.34L659.90 758.05L659.91 757.76L659.93 757.47L659.94 757.18L659.95 756.88L659.97 756.59L659.98 756.30L659.99 756.01L660.01 755.72L660.02 755.43L660.03 755.13L660.04 754.84L660.06 754.55L660.07 754.26L660.08 753.97L660.09 753.68L660.11 753.38L660.12 753.09L660.13 752.80L660.14 752.51L660.15 752.22L660.17 751.93L660.18 751.64L660.19 751.34L660.20 751.05L660.21 750.76L660.22 750.47L660.23 750.18L660.24 749.89L660.25 749.59L660.26 749.30L660.27 749.01L660.28 748.72L660.30 748.43L660.31 748.14L660.32 747.84L660.33 747.55L660.34 747.26L660.34 746.97L660.35 746.68L660.36 746.39L660.37 746.10L660.38 745.80L660.39 745.51L660.40 745.22L660.41 744.93L660.42 744.64L660.43 744.35L660.44 744.05L660.45 743.76L660.45 743.47L660.46 743.18L660.47 742.89L660.48 742.60L660.49 742.30L660.50 742.01L660.50 741.72L660.51 741.43L660.52 741.14L660.53 740.85L660.54 740.55L660.54 740.26L660.55 739.97L660.56 739.68L660.57 739.39L660.57 739.10L660.58 738.81L660.59 738.51L660.60 738.22L660.60 737.93L660.61 737.64L660.62 737.35L660.62 737.06L660.63 736.76L660.64 736.47L660.64 736.18L660.65 735.89L660.66 735.60L660.66 735.31L660.67 735.01L660.68 734.72L660.68 734.43L660.69 734.14L660.69 733.85L660.70 733.56L660.71 733.26L660.71 732.97L660.72 732.68L660.72 732.39L660.73 732.10L660.73 731.81L660.74 731.52L660.74 731.22L660.75 730.93L660.76 730.64L660.76 730.35L660.77 730.06L660.77 729.77L660.78 729.47L660.78 729.18L660.79 728.89L660.79 728.60L660.80 728.31L660.80 728.02L660.81 727.72L660.81 727.43L660.81 727.14L660.82 726.85L660.82 726.56L660.83 726.27L660.83 725.98L660.84 725.68L660.84 725.39L660.85 725.10L660.85 724.81L660.85 724.52L660.86 724.23L660.86 723.93L660.87 723.64L660.87 723.35L660.87 723.06L660.88 722.77L660.88 722.48L660.89 722.18L660.89 721.89L660.89 721.60L660.90 721.31L660.90 721.02L660.90 720.73" stroke="#000" stroke-width="2.00" fill="none" stroke-dasharray="5.1 7.4" stroke-linecap="round"/>
<path d="M101.60 1158.12L101.60 1157.83L101.60 1157.53L101.60 1157.24L101.60 1156.95L101.60 1156.66L101.60 1156.37L101.60 1156.08L101.60 1155.78L101.60 1155.49L101.60 1155.20L101.60 1154.91L101.60 1154.62L101.60 1154.33L101.60 1154.03L101.60 1153.74L101.60 1153.45L101.60 1153.16L101.60 1152.87L101.60 1152.58L101.60 1152.28L101.60 1151.99L101.60 1151.70L101.60 1151.41L101.60 1151.12L101.60 1150.83L101.60 1150.54L101.60 1150.24L101.60 1149.95L101.60 1149.66L101.61 1149.37L101.61 1149.08L101.61 1148.79L101.61 1148.49L101.61 1148.20L101.61 1147.91L101.61 1147.62L101.61 1147.33L101.61 1147.04L101.61 1146.74L101.61 1146.45L101.61 1146.16L101.61 1145.87L101.61 1145.58L101.61 1145.29L101.61 1145.00L101.61 1144.70L101.62 1144.41L101.62 1144.12L101.62 1143.83L101.62 1143.54L101.62 1143.25L101.62 1142.95L101.62 1142.66L101.62 1142.37L101.62 1142.08L101.62 1141.79L101.63 1141.50L101.63 1141.20L101.63 1140.91L101.63 1140.62L101.63 1140.33L101.63 1140.04L101.63 1139.75L101.63 1139.45L101.64 1139.16L101.64 1138.87L101.64 1138.58L101.64 1138.29L101.64 1138.00L101.64 1137.71L101.65 1137.41L101.65 1137.12L101.65 1136.83L101.65 1136.54L101.65 1136.25L101.66 1135.96L101.66 1135.66L101.66 1135.37L101.66 1135.08L101.66 1134.79L101.67 1134.50L101.67 1134.21L101.67 1133.91L101.67 1133.62L101.68 1133.33L101.68 1133.04L101.68 1132.75L101.68 1132.46L101.69 1132.16L101.69 1131.87L101.69 1131.58L101.70 1131.29L101.70 1131.00L101.70 1130.71L101.71 1130.42L101.71 1130.12L101.71 1129.83L101.71 1129.54L101.72 1129.25L101.72 1128.96L101.73 1128.67L101.73 1128.37L101.73 1128.08L101.74 1127.79L101.74 1127.50L101.74 1127.21L101.75 1126.92L101.75 1126.62L101.76 1126.33L101.76 1126.04L101.77 1125.75L101.77 1125.46L101.77 1125.17L101.78 1124.88L101.78 1124.58L101.79 1124.29L101.79 1124.00L101.80 1123.71L101.80 1123.42L101.81 1123.13L101.81 1122.83L101.82 1122.54L101.83 1122.25L101.83 1121.96L101.84 1121.67L101.84 1121.38L101.85 1121.08L101.85 1120.79L101.86 1120.50L101.87 1120.21L101.87 1119.92L101.88 1119.63L101.89 1119.33L101.89 1119.04L101.90 1118.75L101.91 1118.46L101.91 1118.17L101.92 1117.88L101.93 1117.59L101.93 1117.29L101.94 1117.00L101.95 1116.71L101.96 1116.42L101.96 1116.13L101.97 1115.84L101.98 1115.54L101.99 1115.25L102.00 1114.96L102.01 1114.67L102.01 1114.38L102.02 1114.09L102.03 1113.79L102.04 1113.50L102.05 1113.21L102.06 1112.92L102.07 1112.63L102.08 1112.34L102.09 1112.05L102.10 1111.75L102.11 1111.46L102.12 1111.17L102.13 1110.88L102.14 1110.59L102.15 1110.30L102.16 1110.00L102.17 1109.71L102.18 1109.42L102.19 1109.13L102.20 1108.84L102.21 1108.55L102.23 1108.25L102.24 1107.96L102.25 1107.67L102.26 1107.38L102.27 1107.09L102.29 1106.80L102.30 1106.50L102.31 1106.21L102.32 1105.92L102.34 1105.63L102.35 1105.34L102.36 1105.05L102.38 1104.76L102.39 1104.46L102.41 1104.17L102.42 1103.88L102.43 1103.59L102.45 1103.30L102.46 1103.01L102.48 1102.71L102.49 1102.42L102.51 1102.13L102.52 1101.84L102.54 1101.55L102.56 1101.26L102.57 1100.96L102.59 1100.67L102.60 1100.38L102.62 1100.09L102.64 1099.80L102.66 1099.51L102.67 1099.21L102.69 1098.92L102.71 1098.63L102.73 1098.34L102.74 1098.05L102.76 1097.76L102.78 1097.47L102.80 1097.17L102.82 1096.88L102.84 1096.59L102.86 1096.30L102.88 1096.01L102.90 1095.72L102.92 1095.42L102.94 1095.13L102.96 1094.84L102.98 1094.55L103.00 1094.26L103.02 1093.97L103.05 1093.67L103.07 1093.38L103.09 1093.09L103.11 1092.80L103.13 1092.51L103.16 1092.22L103.18 1091.93L103.20 1091.63L103.23 1091.34L103.25 1091.05L103.28 1090.76L103.30 1090.47L103.33 1090.18L103.35 1089.88L103.38 1089.59L103.40 1089.30L103.43 1089.01L103.45 1088.72L103.48 1088.43L103.51 1088.13L103.54 1087.84L103.56 1087.55L103.59 1087.26L103.62 1086.97L103.65 1086.68L103.68 1086.38L103.70 1086.09L103.73 1085.80L103.76 1085.51L103.79 1085.22L103.82 1084.93L103.85 1084.64L103.88 1084.34L103.92 1084.05L103.95 1083.76L103.98 1083.47L104.01 1083.18L104.04 1082.89L104.08 1082.59L104.11 1082.30L104.14 1082.01L104.18 1081.72L104.21 1081.43L104.25 1081.14L104.28 1080.84L104.32 1080.55L104.35 1080.26L104.39 1079.97L104.42 1079.68L104.46 1079.39L104.50 1079.09L104.53 1078.80L104.57 1078.51L104.61 1078.22L104.65 1077.93L104.69 1077.64L104.73 1077.35L104.77 1077.05L104.81 1076.76L104.85 1076.47L104.89 1076.18L104.93 1075.89L104.97 1075.60L105.01 1075.30L105.06 1075.01L105.10 1074.72L105.14 1074.43L105.19 1074.14L105.23 1073.85L105.27 1073.55L105.32 1073.26L105.37 1072.97L105.41 1072.68L105.46 1072.39L105.50 1072.10L105.55 1071.81L105.60 1071.51L105.65 1071.22L105.70 1070.93L105.74 1070.64L105.79 1070.35L105.84 1070.06L105.89 1069.76L105.94 1069.47L106.00 1069.18L106.05 1068.89L106.10 1068.60L106.15 1068.31L106.21 1068.01L106.26 1067.72L106.31 1067.43L106.37 1067.14L106.42 1066.85L106.48 1066.56L106.54 1066.26L106.59 1065.97L106.65 1065.68L106.71 1065.39L106.77 1065.10L106.82 1064.81L106.88 1064.52L106.94 1064.22L107.00 1063.93L107.06 1063.64L107.13 1063.35L107.19 1063.06L107.25 1062.77L107.31 1062.47L107.38 1062.18L107.44 1061.89L107.51 1061.60L107.57 1061.31L107.64 1061.02L107.70 1060.72L107.77 1060.43L107.84 1060.14L107.91 1059.85L107.98 1059.56L108.04 1059.27L108.11 1058.97L108.19 1058.68L108.26 1058.39L108.33 1058.10L108.40 1057.81L108.47 1057.52L108.55 1057.23L108.62 1056.93L108.70 1056.64L108.77 1056.35L108.85 1056.06L108.92 1055.77L109.00 1055.48L109.08 1055.18L109.16 1054.89L109.24 1054.60L109.32 1054.31L109.40 1054.02L109.48 1053.73L109.56 1053.43L109.65 1053.14L109.73 1052.85L109.81 1052.56L109.90 1052.27L109.98 1051.98L110.07 1051.69L110.16 1051.39L110.24 1051.10L110.33 1050.81L110.42 1050.52L110.51 1050.23L110.60 1049.94L110.69 1049.64L110.79 1049.35L110.88 1049.06L110.97 1048.77L111.07 1048.48L111.16 1048.19L111.26 1047.89L111.35 1047.60L111.45 1047.31L111.55 1047.02L111.65 1046.73L111.75 1046.44L111.85 1046.14L111.95 1045.85L112.05 1045.56L112.15 1045.27L112.26 1044.98L112.36 1044.69L112.47 1044.40L112.57 1044.10L112.68 1043.81L112.79 1043.52L112.90 1043.23L113.01 1042.94L113.12 1042.65L113.23 1042.35L113.34 1042.06L113.45 1041.77L113.57 1041.48L113.68 1041.19L113.80 1040.90L113.91 1040.60L114.03 1040.31L114.15 1040.02L114.27 1039.73L114.39 1039.44L114.51 1039.15L114.63 1038.86L114.75 1038.56L114.88 1038.27L115.00 1037.98L115.13 1037.69L115.26 1037.40L115.38 1037.11L115.51 1036.81L115.64 1036.52L115.77 1036.23L115.90 1035.94L116.04 1035.65L116.17 1035.36L116.30 1035.06L116.44 1034.77L116.57 1034.48L116.71 1034.19L116.85 1033.90L116.99 1033.61L117.13 1033.31L117.27 1033.02L117.41 1032.73L117.56 1032.44L117.70 1032.15L117.85 1031.86L118.00 1031.57L118.14 1031.27L118.29 1030.98L118.44 1030.69L118.59 1030.40L118.75 1030.11L118.90 1029.82L119.05 1029.52L119.21 1029.23L119.37 1028.94L119.52 1028.65L119.68 1028.36L119.84 1028.07L120.00 1027.77L120.17 1027.48L120.33 1027.19L120.49 1026.90L120.66 1026.61L120.83 1026.32L120.99 1026.02L121.16 1025.73L121.33 1025.44L121.51 1025.15L121.68 1024.86L121.85 1024.57L122.03 1024.28L122.20 1023.98L122.38 1023.69L122.56 1023.40L122.74 1023.11L122.92 1022.82L123.11 1022.53L123.29 1022.23L123.48 1021.94L123.66 1021.65L123.85 1021.36L124.04 1021.07L124.23 1020.78L124.42 1020.48L124.62 1020.19L124.81 1019.90L125.01 1019.61L125.20 1019.32L125.40 1019.03L125.60 1018.74L125.80 1018.44L126.00 1018.15L126.21 1017.86L126.41 1017.57L126.62 1017.28L126.83 1016.99L127.04 1016.69L127.25 1016.40L127.46 1016.11L127.68 1015.82L127.89 1015.53L128.11 1015.24L128.32 1014.94L128.54 1014.65L128.77 1014.36L128.99 1014.07L129.21 1013.78L129.44 1013.49L129.66 1013.19L129.89 1012.90L130.12 1012.61L130.35 1012.32L130.59 1012.03L130.82 1011.74L131.06 1011.45L131.29 1011.15L131.53 1010.86L131.77 1010.57L132.01 1010.28L132.26 1009.99L132.50 1009.70L132.75 1009.40L133.00 1009.11L133.25 1008.82L133.50 1008.53L133.75 1008.24L134.01 1007.95L134.26 1007.65L134.52 1007.36L134.78 1007.07L135.04 1006.78L135.31 1006.49L135.57 1006.20L135.84 1005.90L136.11 1005.61L136.37 1005.32L136.65 1005.03L136.92 1004.74L137.19 1004.45L137.47 1004.16L137.75 1003.86L138.03 1003.57L138.31 1003.28L138.59 1002.99L138.88 1002.70L139.17 1002.41L139.45 1002.11L139.74 1001.82L140.04 1001.53L140.33 1001.24L140.63 1000.95L140.92 1000.66L141.22 1000.36L141.52 1000.07L141.83 999.78L142.13 999.49L142.44 999.20L142.75 998.91L143.06 998.62L143.37 998.32L143.68 998.03L144.00 997.74L144.32 997.45L144.64 997.16L144.96 996.87L145.28 996.57L145.61 996.28L145.94 995.99L146.27 995.70L146.60 995.41L146.93 995.12L147.27 994.82L147.60 994.53L147.94 994.24L148.28 993.95L148.63 993.66L148.97 993.37L149.32 993.07L149.67 992.78L150.02 992.49L150.37 992.20L150.73 991.91L151.09 991.62L151.44 991.33L151.81 991.03L152.17 990.74L152.54 990.45L152.90 990.16L153.27 989.87L153.64 989.58L154.02 989.28L154.39 988.99L154.77 988.70L155.15 988.41L155.53 988.12L155.92 987.83L156.31 987.53L156.69 987.24L157.09 986.95L157.48 986.66L157.87 986.37L158.27 986.08L158.67 985.78L159.07 985.49L159.48 985.20L159.88 984.91L160.29 984.62L160.70 984.33L161.12 984.04L161.53 983.74L161.95 983.45L162.37 983.16L162.79 982.87L163.21 982.58L163.64 982.29L164.07 981.99L164.50 981.70L164.93 981.41L165.37 981.12L165.81 980.83L166.25 980.54L166.69 980.24L167.13 979.95L167.58 979.66L168.03 979.37L168.48 979.08L168.94 978.79L169.39 978.50L169.85 978.20L170.31 977.91L170.78 977.62L171.24 977.33L171.71 977.04L172.18 976.75L172.65 976.45L173.13 976.16L173.61 975.87L174.09 975.58L174.57 975.29L175.06 975.00L175.54 974.70L176.03 974.41L176.53 974.12L177.02 973.83L177.52 973.54L178.02 973.25L178.52 972.95L179.03 972.66L179.53 972.37L180.04 972.08L180.56 971.79L181.07 971.50L181.59 971.21L182.11 970.91L182.63 970.62L183.15 970.33L183.68 970.04L184.21 969.75L184.74 969.46L185.28 969.16L185.82 968.87L186.36 968.58L186.90 968.29L187.44 968.00L187.99 967.71L188.54 967.41L189.09 967.12L189.65 966.83L190.21 966.54L190.77 966.25L191.33 965.96L191.89 965.67L192.46 965.37L193.03 965.08L193.61 964.79L194.18 964.50L194.76 964.21L195.34 963.92L195.92 963.62L196.51 963.33L197.10 963.04L197.69 962.75L198.28 962.46L198.88 962.17L199.48 961.87L200.08 961.58L200.69 961.29L201.29 961.00L201.90 960.71L202.52 960.42L203.13 960.12L203.75 959.83L204.37 959.54L204.99 959.25L205.62 958.96L206.24 958.67L206.87 958.38L207.51 958.08L208.14 957.79L208.78 957.50L209.42 957.21L210.07 956.92L210.71 956.63L211.36 956.33L212.01 956.04L212.67 955.75L213.33 955.46L213.99 955.17L214.65 954.88L215.31 954.58L215.98 954.29L216.65 954.00L217.32 953.71L218.00 953.42L218.68 953.13L219.36 952.83L220.04 952.54L220.73 952.25L221.42 951.96L222.11 951.67L222.80 951.38L223.50 951.09L224.20 950.79L224.90 950.50L225.60 950.21L226.31 949.92L227.02 949.63L227.73 949.34L228.45 949.04L229.16 948.75L229.88 948.46L230.61 948.17L231.33 947.88L232.06 947.59L232.79 947.29L233.52 947.00L234.26 946.71L235.00 946.42L235.74 946.13L236.48 945.84L237.23 945.55L237.98 945.25L238.73 944.96L239.48 944.67L240.24 944.38L241.00 944.09L241.76 943.80L242.52 943.50L243.29 943.21L244.06 942.92L244.83 942.63L245.60 942.34L246.38 942.05L247.16 941.75L247.94 941.46L248.72 941.17L249.51 940.88L250.30 940.59L251.09 940.30L251.88 940.00L252.68 939.71L253.48 939.42L254.28 939.13L255.08 938.84L255.89 938.55L256.70 938.26L257.51 937.96L258.32 937.67L259.14 937.38L259.95 937.09L260.77 936.80L261.60 936.51L262.42 936.21L263.25 935.92L264.08 935.63L264.91 935.34L265.75 935.05L266.58 934.76L267.42 934.46L268.26 934.17L269.11 933.88L269.95 933.59L270.80 933.30L271.65 933.01L272.50 932.71L273.36 932.42L274.22 932.13L275.08 931.84L275.94 931.55L276.80 931.26L277.67 930.97L278.53 930.67L279.40 930.38L280.28 930.09L281.15 929.80L282.03 929.51L282.91 929.22L283.79 928.92L284.67 928.63L285.55 928.34L286.44 928.05L287.33 927.76L288.22 927.47L289.11 927.17L290.01 926.88L290.91 926.59L291.80 926.30L292.71 926.01L293.61 925.72L294.51 925.43L295.42 925.13L296.33 924.84L297.24 924.55L298.15 924.26L299.06 923.97L299.98 923.68L300.90 923.38L301.82 923.09L302.74 922.80L303.66 922.51L304.59 922.22L305.51 921.93L306.44 921.63L307.37 921.34L308.30 921.05L309.24 920.76L310.17 920.47L311.11 920.18L312.05 919.88L312.99 919.59L313.93 919.30L314.87 919.01L315.81 918.72L316.76 918.43L317.71 918.14L318.66 917.84L319.61 917.55L320.56 917.26L321.51 916.97L322.47 916.68L323.42 916.39L324.38 916.09L325.34 915.80L326.30 915.51L327.26 915.22L328.23 914.93L329.19 914.64L330.16 914.34L331.12 914.05L332.09 913.76L333.06 913.47L334.03 913.18L335.00 912.89L335.97 912.59L336.95 912.30L337.92 912.01L338.90 911.72L339.88 911.43L340.85 911.14L341.83 910.85L342.81 910.55L343.80 910.26L344.78 909.97L345.76 909.68L346.74 909.39L347.73 909.10L348.72 908.80L349.70 908.51L350.69 908.22L351.68 907.93L352.67 907.64L353.66 907.35L354.65 907.05L355.64 906.76L356.63 906.47L357.62 906.18L358.62 905.89L359.61 905.60L360.61 905.31L361.60 905.01L362.60 904.72L363.59 904.43L364.59 904.14L365.59 903.85L366.59 903.56L367.58 903.26L368.58 902.97L369.58 902.68L370.58 902.39L371.58 902.10L372.58 901.81L373.58 901.51L374.58 901.22L375.59 900.93L376.59 900.64L377.59 900.35L378.59 900.06L379.59 899.76L380.60 899.47L381.60 899.18L382.60 898.89L383.60 898.60L384.61 898.31L385.61 898.02L386.61 897.72L387.61 897.43L388.62 897.14L389.62 896.85L390.62 896.56L391.63 896.27L392.63 895.97L393.63 895.68L394.63 895.39L395.64 895.10L396.64 894.81L397.64 894.52L398.64 894.22L399.64 893.93L400.64 893.64L401.64 893.35L402.64 893.06L403.64 892.77L404.64 892.48L405.64 892.18L406.64 891.89L407.64 891.60L408.64 891.31L409.63 891.02L410.63 890.73L411.63 890.43L412.62 890.14L413.62 889.85L414.61 889.56L415.61 889.27L416.60 888.98L417.59 888.68L418.58 888.39L419.58 888.10L420.57 887.81L421.55 887.52L422.54 887.23L423.53 886.93L424.52 886.64L425.51 886.35L426.49 886.06L427.47 885.77L428.46 885.48L429.44 885.19L430.42 884.89L431.40 884.60L432.38 884.31L433.36 884.02L434.34 883.73L435.32 883.44L436.29 883.14L437.27 882.85L438.24 882.56L439.21 882.27L440.18 881.98L441.15 881.69L442.12 881.39L443.09 881.10L444.05 880.81L445.02 880.52L445.98 880.23L446.94 879.94L447.90 879.64L448.86 879.35L449.82 879.06L450.78 878.77L451.73 878.48L452.69 878.19L453.64 877.90L454.59 877.60L455.54 877.31L456.49 877.02L457.43 876.73L458.38 876.44L459.32 876.15L460.26 875.85L461.20 875.56L462.14 875.27L463.08 874.98L464.01 874.69L464.95 874.40L465.88 874.10L466.81 873.81L467.74 873.52L468.66 873.23L469.59 872.94L470.51 872.65L471.43 872.36L472.35 872.06L473.27 871.77L474.18 871.48L475.10 871.19L476.01 870.90L476.92 870.61L477.83 870.31L478.73 870.02L479.64 869.73L480.54 869.44L481.44 869.15L482.34 868.86L483.24 868.56L484.13 868.27L485.02 867.98L485.91 867.69L486.80 867.40L487.69 867.11L488.57 866.81L489.45 866.52L490.33 866.23L491.21 865.94L492.09 865.65L492.96 865.36L493.83 865.07L494.70 864.77L495.57 864.48L496.43 864.19L497.29 863.90L498.15 863.61L499.01 863.32L499.87 863.02L500.72 862.73L501.57 862.44L502.42 862.15L503.27 861.86L504.11 861.57L504.95 861.27L505.79 860.98L506.63 860.69L507.46 860.40L508.29 860.11L509.12 859.82L509.95 859.52L510.78 859.23L511.60 858.94L512.42 858.65L513.24 858.36L514.05 858.07L514.87 857.78L515.68 857.48L516.48 857.19L517.29 856.90L518.09 856.61L518.89 856.32L519.69 856.03L520.49 855.73L521.28 855.44L522.07 855.15L522.86 854.86L523.64 854.57L524.42 854.28L525.20 853.98L525.98 853.69L526.76 853.40L527.53 853.11L528.30 852.82L529.07 852.53L529.83 852.24L530.59 851.94L531.35 851.65L532.11 851.36L532.86 851.07L533.61 850.78L534.36 850.49L535.11 850.19L535.85 849.90L536.59 849.61L537.33 849.32L538.07 849.03L538.80 848.74L539.53 848.44L540.26 848.15L540.98 847.86L541.70 847.57L542.42 847.28L543.14 846.99L543.85 846.69L544.56 846.40L545.27 846.11L545.98 845.82L546.68 845.53L547.38 845.24L548.08 844.95L548.78 844.65L549.47 844.36L550.16 844.07L550.84 843.78L551.53 843.49L552.21 843.20L552.89 842.90L553.56 842.61L554.24 842.32L554.91 842.03L555.57 841.74L556.24 841.45L556.90 841.15L557.56 840.86L558.22 840.57L558.87 840.28L559.52 839.99L560.17 839.70L560.82 839.40L561.46 839.11L562.10 838.82L562.74 838.53L563.37 838.24L564.00 837.95L564.63 837.66L565.26 837.36L565.88 837.07L566.50 836.78L567.12 836.49L567.74 836.20L568.35 835.91L568.96 835.61L569.57 835.32L570.17 835.03L570.77 834.74L571.37 834.45L571.97 834.16L572.56 833.86L573.15 833.57L573.74 833.28L574.33 832.99L574.91 832.70L575.49 832.41L576.07 832.12L576.64 831.82L577.21 831.53L577.78 831.24L578.35 830.95L578.91 830.66L579.47 830.37L580.03 830.07L580.59 829.78L581.14 829.49L581.69 829.20L582.24 828.91L582.78 828.62L583.33 828.32L583.86 828.03L584.40 827.74L584.94 827.45L585.47 827.16L586.00 826.87L586.52 826.57L587.05 826.28L587.57 825.99L588.09 825.70L588.60 825.41L589.11 825.12L589.63 824.83L590.13 824.53L590.64 824.24L591.14 823.95L591.64 823.66L592.14 823.37L592.63 823.08L593.13 822.78L593.62 822.49L594.10 822.20L594.59 821.91L595.07 821.62L595.55 821.33L596.03 821.03L596.50 820.74L596.97 820.45L597.44 820.16L597.91 819.87L598.37 819.58L598.83 819.29L599.29 818.99L599.75 818.70L600.20 818.41L600.66 818.12L601.11 817.83L601.55 817.54L602.00 817.24L602.44 816.95L602.88 816.66L603.32 816.37L603.75 816.08L604.18 815.79L604.61 815.49L605.04 815.20L605.46 814.91L605.89 814.62L606.31 814.33L606.72 814.04L607.14 813.74L607.55 813.45L607.96 813.16L608.37 812.87L608.78 812.58L609.18 812.29L609.58 812.00L609.98 811.70L610.38 811.41L610.77 811.12L611.16 810.83L611.55 810.54L611.94 810.25L612.32 809.95L612.71 809.66L613.09 809.37L613.46 809.08L613.84 808.79L614.21 808.50L614.59 808.20L614.95 807.91L615.32 807.62L615.69 807.33L616.05 807.04L616.41 806.75L616.77 806.45L617.12 806.16L617.48 805.87L617.83 805.58L618.18 805.29L618.52 805.00L618.87 804.71L619.21 804.41L619.55 804.12L619.89 803.83L620.23 803.54L620.56 803.25L620.89 802.96L621.22 802.66L621.55 802.37L621.88 802.08L622.20 801.79L622.52 801.50L622.84 801.21L623.16 800.91L623.48 800.62L623.79 800.33L624.10 800.04L624.41 799.75L624.72 799.46L625.03 799.17L625.33 798.87L625.63 798.58L625.93 798.29L626.23 798.00L626.53 797.71L626.82 797.42L627.11 797.12L627.40 796.83L627.69 796.54L627.98 796.25L628.26 795.96L628.54 795.67L628.82 795.37L629.10 795.08L629.38 794.79L629.65 794.50L629.93 794.21L630.20 793.92L630.47 793.62L630.74 793.33L631.00 793.04L631.27 792.75L631.53 792.46L631.79 792.17L632.05 791.88L632.30 791.58L632.56 791.29L632.81 791.00L633.06 790.71L633.31 790.42L633.56 790.13L633.81 789.83L634.05 789.54L634.30 789.25L634.54 788.96L634.78 788.67L635.01 788.38L635.25 788.08L635.48 787.79L635.72 787.50L635.95 787.21L636.18 786.92L636.41 786.63L636.63 786.33L636.86 786.04L637.08 785.75L637.30 785.46L637.52 785.17L637.74 784.88L637.96 784.59L638.17 784.29L638.38 784.00L638.60 783.71L638.81 783.42L639.02 783.13L639.22 782.84L639.43 782.54L639.63 782.25L639.84 781.96L640.04 781.67L640.24 781.38L640.44 781.09L640.63 780.79L640.83 780.50L641.02 780.21L641.21 779.92L641.41 779.63L641.60 779.34L641.78 779.05L641.97 778.75L642.16 778.46L642.34 778.17L642.52 777.88L642.70 777.59L642.88 777.30L643.06 777.00L643.24 776.71L643.41 776.42L643.59 776.13L643.76 775.84L643.93 775.55L644.10 775.25L644.27 774.96L644.44 774.67L644.61 774.38L644.77 774.09L644.93 773.80L645.10 773.50L645.26 773.21L645.42 772.92L645.58 772.63L645.73 772.34L645.89 772.05L646.05 771.76L646.20 771.46L646.35 771.17L646.50 770.88L646.65 770.59L646.80 770.30L646.95 770.01L647.10 769.71L647.24 769.42L647.38 769.13L647.53 768.84L647.67 768.55L647.81 768.26L647.95 767.96L648.09 767.67L648.22 767.38L648.36 767.09L648.50 766.80L648.63 766.51L648.76 766.22L648.89 765.92L649.02 765.63L649.15 765.34L649.28 765.05L649.41 764.76L649.53 764.47L649.66 764.17L649.78 763.88L649.91 763.59L650.03 763.30L650.15 763.01L650.27 762.72L650.39 762.42L650.51 762.13L650.62 761.84L650.74 761.55L650.85 761.26L650.97 760.97L651.08 760.67L651.19 760.38L651.30 760.09L651.41 759.80L651.52 759.51L651.63 759.22L651.74 758.93L651.84 758.63L651.95 758.34L652.05 758.05L652.15 757.76L652.26 757.47L652.36 757.18L652.46 756.88L652.56 756.59L652.66 756.30L652.76 756.01L652.85 755.72L652.95 755.43L653.04 755.13L653.14 754.84L653.23 754.55L653.32 754.26L653.42 753.97L653.51 753.68L653.60 753.38L653.69 753.09L653.78 752.80L653.86 752.51L653.95 752.22L654.04 751.93L654.12 751.64L654.21 751.34L654.29 751.05L654.37 750.76L654.45 750.47L654.54 750.18L654.62 749.89L654.70 749.59L654.77 749.30L654.85 749.01L654.93 748.72L655.01 748.43L655.08 748.14L655.16 747.84L655.23 747.55L655.31 747.26L655.38 746.97L655.45 746.68L655.52 746.39L655.60 746.10L655.67 745.80L655.74 745.51L655.80 745.22L655.87 744.93L655.94 744.64L656.01 744.35L656.07 744.05L656.14 743.76L656.20 743.47L656.27 743.18L656.33 742.89L656.40 742.60L656.46 742.30L656.52 742.01L656.58 741.72L656.64 741.43L656.70 741.14L656.76 740.85L656.82 740.55L656.88 740.26L656.93 739.97L656.99 739.68L657.05 739.39L657.10 739.10L657.16 738.81L657.21 738.51L657.27 738.22L657.32 737.93L657.37 737.64L657.42 737.35L657.48 737.06L657.53 736.76L657.58 736.47L657.63 736.18L657.68 735.89L657.73 735.60L657.77 735.31L657.82 735.01L657.87 734.72L657.92 734.43L657.96 734.14L658.01 733.85L658.05 733.56L658.10 733.26L658.14 732.97L658.19 732.68L658.23 732.39L658.27 732.10L658.31 731.81L658.36 731.52L658.40 731.22L658.44 730.93L658.48 730.64L658.52 730.35L658.56 730.06L658.60 729.77L658.64 729.47L658.67 729.18L658.71 728.89L658.75 728.60L658.79 728.31L658.82 728.02L658.86 727.72L658.89 727.43L658.93 727.14L658.96 726.85L659.00 726.56L659.03 726.27L659.07 725.98L659.10 725.68L659.13 725.39L659.16 725.10L659.19 724.81L659.23 724.52L659.26 724.23L659.29 723.93L659.32 723.64L659.35 723.35L659.38 723.06L659.41 722.77L659.44 722.48L659.46 722.18L659.49 721.89L659.52 721.60L659.55 721.31L659.57 721.02L659.60 720.73" stroke="#000" stroke-width="2.00" fill="none" stroke-dasharray="0.8 5.2 5.8 5.2" stroke-linecap="round"/>
<g font-size="15.70" fill="#2a2a2a"><text x="168.40" y="184.90" textLength="148.44" lengthAdjust="spacing">Underestimated risks</text><text x="168.40" y="203.75" textLength="116.87" lengthAdjust="spacing">(intercept = 1.00;</text><text x="168.40" y="222.60" textLength="70.54" lengthAdjust="spacing">slope = 1)</text><text x="330.80" y="334.20" textLength="50.20" lengthAdjust="spacing">Perfect</text><text x="330.80" y="353.65" textLength="95.46" lengthAdjust="spacing">(intercept = 0;</text><text x="330.80" y="372.90" textLength="69.04" lengthAdjust="spacing">slope = 1)</text><text x="415.10" y="408.60" textLength="139.21" lengthAdjust="spacing">Overestimated risks</text><text x="415.10" y="428.15" textLength="122.49" lengthAdjust="spacing">(intercept = -1.25;</text><text x="415.10" y="448.00" textLength="69.74" lengthAdjust="spacing">slope = 1)</text><text x="224.30" y="737.90" textLength="107.86" lengthAdjust="spacing">Estimated risks</text><text x="224.30" y="756.75" textLength="136.35" lengthAdjust="spacing">not extreme enough</text><text x="224.30" y="775.60" textLength="95.66" lengthAdjust="spacing">(intercept = 0;</text><text x="224.30" y="794.45" textLength="82.32" lengthAdjust="spacing">slope = 2.5)</text><text x="464.70" y="727.90" textLength="49.90" lengthAdjust="spacing">Perfect</text><text x="464.70" y="746.75" textLength="94.86" lengthAdjust="spacing">(intercept = 0;</text><text x="464.70" y="765.60" textLength="69.64" lengthAdjust="spacing">slope = 1)</text><text x="100.90" y="901.70" textLength="118.89" lengthAdjust="spacing">Underestimation,</text><text x="100.90" y="920.55" textLength="130.11" lengthAdjust="spacing">and overly extreme</text><text x="100.90" y="939.40" textLength="117.57" lengthAdjust="spacing">(intercept = 2.00,</text><text x="100.90" y="958.25" textLength="91.34" lengthAdjust="spacing">slope = 0.34)</text><text x="521.50" y="962.20" textLength="102.26" lengthAdjust="spacing">Overly extreme</text><text x="521.50" y="980.55" textLength="96.99" lengthAdjust="spacing">risk estimates</text><text x="521.50" y="999.20" textLength="95.86" lengthAdjust="spacing">(intercept = 0;</text><text x="521.50" y="1018.05" textLength="90.64" lengthAdjust="spacing">slope = 0.33)</text></g>
</svg>
</body></html>
